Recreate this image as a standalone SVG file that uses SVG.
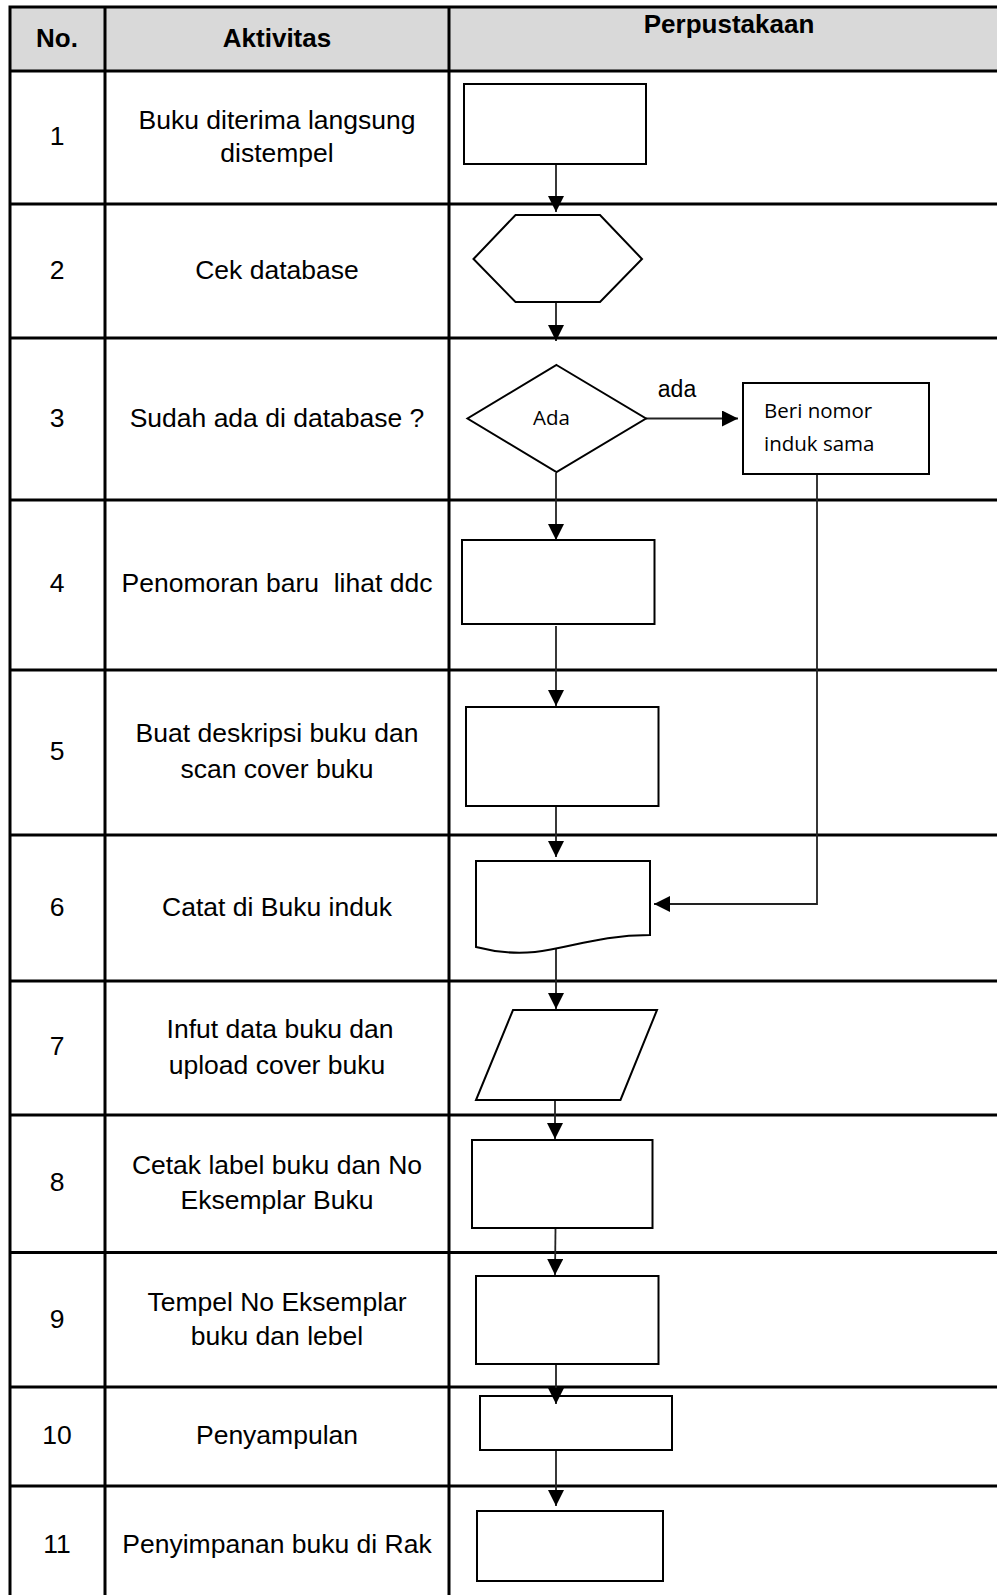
<svg xmlns="http://www.w3.org/2000/svg" width="997" height="1595" viewBox="0 0 997 1595">
<style>
.grid{stroke:#000;stroke-width:3;fill:none}
.shape{fill:#fff;stroke:#000;stroke-width:2}
.conn{fill:none;stroke:#222;stroke-width:1.8}
.t{font-family:"Liberation Sans",Arial,sans-serif;font-size:26.5px;fill:#000;text-anchor:middle}
.h{font-family:"Liberation Sans",Arial,sans-serif;font-size:26px;font-weight:bold;fill:#000;text-anchor:middle}
.s{font-family:"Open Sans","Noto Sans",sans-serif;font-size:20.5px;fill:#000}
.lbl{font-family:"Liberation Sans",Arial,sans-serif;font-size:23px;fill:#000;text-anchor:middle}
</style>
<defs>
<marker id="arr" markerUnits="userSpaceOnUse" markerWidth="16" markerHeight="16" refX="16" refY="8" orient="auto">
<path d="M0,0 L16,8 L0,16 Z" fill="#000"/>
</marker>
</defs>
<rect x="0" y="0" width="997" height="1595" fill="#fff"/>
<g id="table">
<rect x="10" y="7" width="987" height="64" fill="#d9d9d9"/>
<path class="grid" d="M10,7 H997 M10,5.5 V1595 M105,7 V1595 M449,7 V1595
M10,71 H997 M10,204 H997 M10,338 H997 M10,500 H997 M10,670 H997 M10,835 H997
M10,981 H997 M10,1115 H997 M10,1252.5 H997 M10,1387 H997 M10,1486 H997"/>
<text class="h" x="57" y="46.5">No.</text>
<text class="h" x="277" y="46.5">Aktivitas</text>
<text class="h" x="729" y="33">Perpustakaan</text>
</g>
<g id="rows">
<text class="t" x="57" y="144.5">1</text>
<text class="t" x="277" y="128.5">Buku diterima langsung</text>
<text class="t" x="277" y="162">distempel</text>
<text class="t" x="57" y="279">2</text>
<text class="t" x="277" y="279">Cek database</text>
<text class="t" x="57" y="426.5">3</text>
<text class="t" x="277" y="426.5">Sudah ada di database ?</text>
<text class="t" x="57" y="592">4</text>
<text class="t" x="277" y="592" xml:space="preserve" style="white-space:pre">Penomoran baru  lihat ddc</text>
<text class="t" x="57" y="760">5</text>
<text class="t" x="277" y="742">Buat deskripsi buku dan</text>
<text class="t" x="277" y="777.5">scan cover buku</text>
<text class="t" x="57" y="916">6</text>
<text class="t" x="277" y="916">Catat di Buku induk</text>
<text class="t" x="57" y="1055">7</text>
<text class="t" x="280" y="1038">Infut data buku dan</text>
<text class="t" x="277" y="1073.5">upload cover buku</text>
<text class="t" x="57" y="1190.5">8</text>
<text class="t" x="277" y="1174">Cetak label buku dan No</text>
<text class="t" x="277" y="1209">Eksemplar Buku</text>
<text class="t" x="57" y="1328">9</text>
<text class="t" x="277" y="1310.5">Tempel No Eksemplar</text>
<text class="t" x="277" y="1345">buku dan lebel</text>
<text class="t" x="57" y="1444">10</text>
<text class="t" x="277" y="1444">Penyampulan</text>
<text class="t" x="57" y="1552.5">11</text>
<text class="t" x="277" y="1552.5">Penyimpanan buku di Rak</text>
</g>
<g id="connectors">
<path class="conn" marker-end="url(#arr)" d="M556,164 V212"/>
<path class="conn" marker-end="url(#arr)" d="M556,302 V341"/>
<path class="conn" marker-end="url(#arr)" d="M646,418.5 H738"/>
<path class="conn" marker-end="url(#arr)" d="M556,473 V540"/>
<path class="conn" marker-end="url(#arr)" d="M556,626 V706"/>
<path class="conn" marker-end="url(#arr)" d="M556,806 V857"/>
<path class="conn" marker-end="url(#arr)" d="M817,474 V904 H654"/>
<path class="conn" marker-end="url(#arr)" d="M556,949 V1009"/>
<path class="conn" marker-end="url(#arr)" d="M555,1100 V1139"/>
<path class="conn" marker-end="url(#arr)" d="M555.5,1228 L555,1275"/>
<path class="conn" d="M556,1364 V1390"/>
<path class="conn" marker-end="url(#arr)" d="M556,1450 V1506"/>
<text class="lbl" x="677" y="396.5">ada</text>
</g>
<g id="n1"><rect class="shape" x="464" y="84" width="182" height="80"/></g>
<g id="n2"><polygon class="shape" points="473.5,259 515.5,215 600,215 642,259 600,302 515.5,302"/></g>
<g id="n3"><polygon class="shape" points="556.5,365 646,418.5 556.5,472 467.5,418.5"/><text class="s" x="533" y="425">Ada</text></g>
<g id="n3b"><rect class="shape" x="743" y="383" width="186" height="91"/><text class="s" x="764" y="418">Beri nomor</text><text class="s" x="764" y="451">induk sama</text></g>
<g id="n4"><rect class="shape" x="462" y="540" width="192.5" height="84"/></g>
<g id="n5"><rect class="shape" x="466" y="707" width="192.5" height="99"/></g>
<g id="n6"><path class="shape" d="M476,861 L650,861 L650,935 C600,935 570,948 535,952 C515,954 495,952 476,947 Z"/></g>
<g id="n7"><polygon class="shape" points="513,1010 657,1010 620.5,1100 476,1100"/></g>
<g id="n8"><rect class="shape" x="472" y="1140" width="180.5" height="88"/></g>
<g id="n9"><rect class="shape" x="476" y="1276" width="182.5" height="88"/></g>
<g id="n10"><rect class="shape" x="480" y="1396" width="192" height="54"/><path class="conn" marker-end="url(#arr)" d="M556,1388 V1404"/></g>
<g id="n11"><rect class="shape" x="477" y="1511" width="186" height="70"/></g>
</svg>
